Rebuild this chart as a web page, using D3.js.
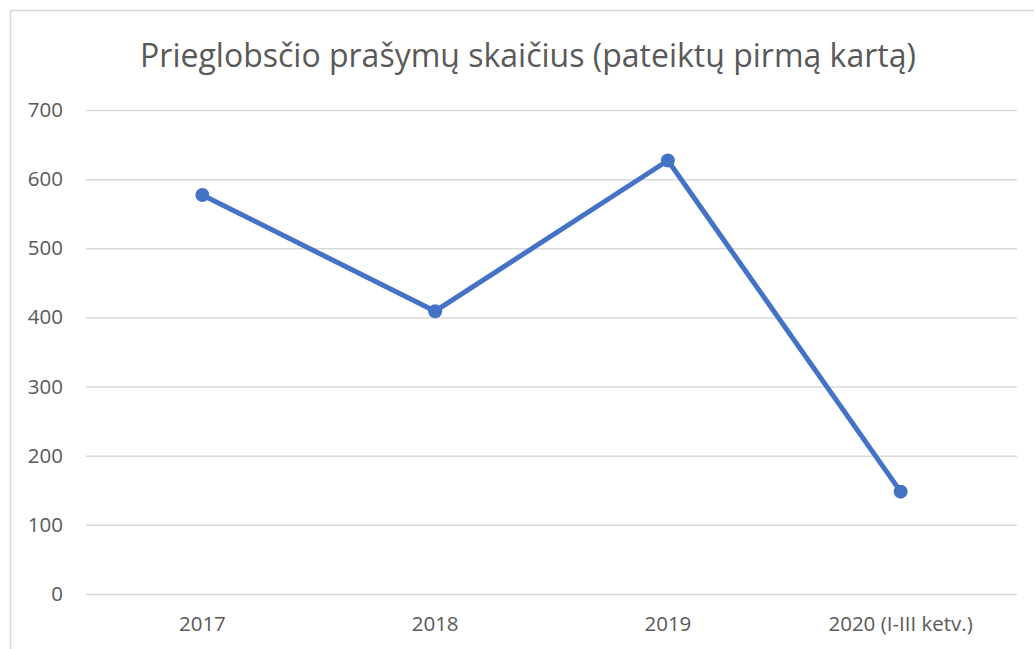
<!DOCTYPE html>
<html>
<head>
<meta charset="utf-8">
<script src="https://cdn.jsdelivr.net/npm/d3@7"></script>
<style>
  body { margin: 0; background: #fff; }
  svg { display: block; font-family: "Open Sans", sans-serif; }
</style>
</head>
<body>
<svg id="chart"></svg>
<script>
var categories = ['2017', '2018', '2019', '2020 (I-III ketv.)'];
var values = [577, 409, 627, 148];
var yTicks = [0, 100, 200, 300, 400, 500, 600, 700];
var title = 'Prieglobsčio prašymų skaičius (pateiktų pirmą kartą)';

var width = 1034, height = 649;
var margin = {top: 110, right: 17, bottom: 55, left: 86};

var svg = d3.select('#chart')
  .attr('width', width)
  .attr('height', height);

// chart frame
svg.append('rect')
  .attr('x', 10.5).attr('y', 10.5)
  .attr('width', width + 20).attr('height', height + 20)
  .attr('fill', 'none')
  .attr('stroke', '#d9d9d9')
  .attr('stroke-width', 1.5);

svg.append('text')
  .attr('x', 528).attr('y', 67)
  .attr('text-anchor', 'middle')
  .attr('font-size', 32)
  .attr('fill', '#595959')
  .text(title);

var chart = svg.append('g')
  .attr('transform', `translate(${margin.left}, ${margin.top})`);

var inner_width = width - margin.left - margin.right;
var inner_height = height - margin.top - margin.bottom;

var xscale = d3.scaleBand()
  .domain(categories)
  .range([0, inner_width]);

var yscale = d3.scaleLinear()
  .domain([0, 700])
  .range([inner_height, 0]);

// gridlines
var ygrid = d3.axisLeft(yscale)
  .tickValues(yTicks)
  .tickSize(-inner_width)
  .tickFormat('');
chart.append('g')
  .call(ygrid)
  .call(g => g.select('.domain').remove())
  .call(g => g.selectAll('line').attr('stroke', '#d9d9d9').attr('stroke-width', 1.5));

// y labels
var yaxis = d3.axisLeft(yscale)
  .tickValues(yTicks)
  .tickSize(0)
  .tickPadding(23);
chart.append('g')
  .call(yaxis)
  .call(g => g.select('.domain').remove())
  .call(g => g.selectAll('text')
    .attr('font-size', 20.5)
    .attr('font-family', '"Open Sans", sans-serif')
    .attr('fill', '#595959'));

// x labels
var xaxis = d3.axisBottom(xscale)
  .tickSize(0)
  .tickPadding(22);
chart.append('g')
  .attr('transform', `translate(0, ${inner_height})`)
  .call(xaxis)
  .call(g => g.select('.domain').remove())
  .call(g => g.selectAll('text')
    .attr('font-size', 20.5)
    .attr('font-family', '"Open Sans", sans-serif')
    .attr('fill', '#595959'));

var cx = (d, i) => xscale(categories[i]) + xscale.bandwidth() / 2;

var line = d3.line()
  .x(cx)
  .y(d => yscale(d));

chart.append('path')
  .datum(values)
  .attr('d', line)
  .attr('fill', 'none')
  .attr('stroke', '#4472c4')
  .attr('stroke-width', 5)
  .attr('stroke-linejoin', 'round');

chart.selectAll('circle')
  .data(values)
  .enter()
  .append('circle')
  .attr('cx', cx)
  .attr('cy', d => yscale(d))
  .attr('r', 7)
  .attr('fill', '#4472c4');
</script>
</body>
</html>
